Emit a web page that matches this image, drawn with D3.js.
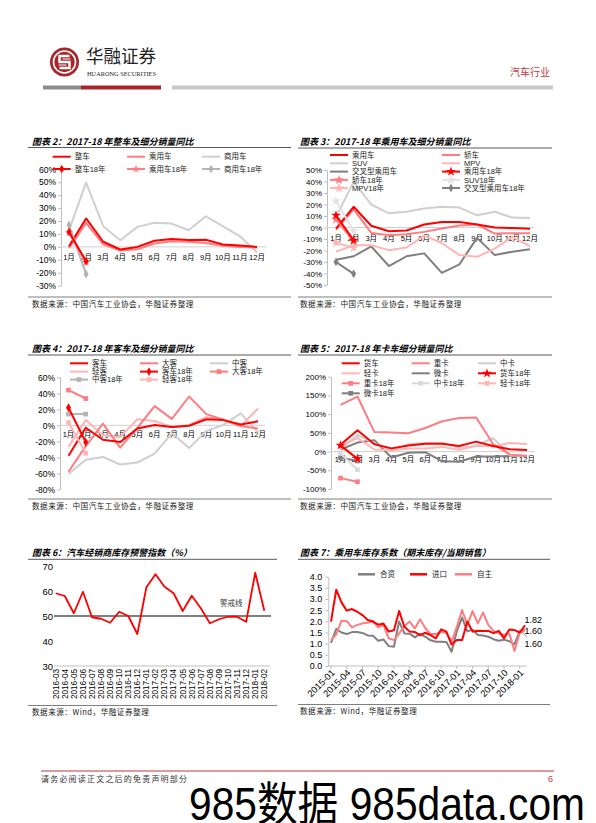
<!DOCTYPE html>
<html><head><meta charset="utf-8">
<script src="https://cdn.jsdelivr.net/npm/d3@7"></script>
<style>
body{margin:0;background:#fff;}
svg{display:block;font-family:"Liberation Sans","Noto Sans CJK SC",sans-serif;}
</style></head><body><svg id="page" width="596" height="823"></svg>
<script>
// ---------------- DATA ----------------
const months = ["1月","2月","3月","4月","5月","6月","7月","8月","9月","10月","11月","12月"];
const months18 = ["1月","2月"];

// 图表2
const c2_zhengche   = [0.5, 22.0, 4.0, -2.0, 0.0, 4.8, 6.2, 5.4, 5.5, 1.9, 1.0, 0.0];
const c2_chengyong  = [-1.0, 18.6, 2.0, -2.8, -1.8, 2.6, 4.4, 3.9, 3.1, 0.8, 0.0, -0.5];
const c2_shangyong  = [13.0, 49.7, 16.0, 5.2, 15.5, 18.6, 18.0, 12.9, 23.7, 16.0, 8.2, -4.4];
const c2_zhengche18 = [11.6, -11.1];
const c2_chengyong18 = [11.1, -11.9];
const c2_shangyong18 = [17.0, -21.1];

// 图表3
const c3_chengyong = [-1.0, 18.0, 1.5, -3.2, -2.6, 2.6, 4.8, 4.7, 2.7, 0.0, -0.5, -1.0];
const c3_jiaoche   = [-2.0, 15.8, -4.7, -6.7, -5.8, -3.8, -0.9, 1.7, 2.6, -5.3, -5.0, -5.0];
const c3_suv       = [9.0, 39.7, 20.0, 12.3, 13.7, 16.6, 18.0, 17.3, 10.6, 13.7, 8.6, 8.2];
const c3_mpv       = [-21.0, -15.5, -15.4, -19.7, -17.4, -7.0, -13.5, -24.0, -25.5, -18.3, -8.2, -16.3];
const c3_jiaocha   = [-28.0, -25.0, -16.5, -33.5, -25.0, -22.5, -39.5, -32.0, -9.0, -24.0, -21.0, -19.0];
const c3_chengyong18 = [10.6, -11.1];
const c3_jiaoche18   = [7.0, -12.0];
const c3_suv18       = [23.0, -3.0];
const c3_mpv18       = [-13.3, -17.7];
const c3_jiaocha18   = [-30.0, -40.3];

// 图表4
const c4_keche   = [-38.0, -3.0, -18.0, -21.0, -4.0, 0.5, -2.0, -0.5, 7.5, 6.5, 1.0, 5.0];
const c4_dake    = [-58.0, -26.0, 2.0, -28.0, -3.0, 24.0, 8.0, 36.0, 14.0, 7.0, -1.0, -4.0];
const c4_zhongke = [-61.0, -43.0, -39.5, -49.0, -46.5, -35.5, -10.0, -28.5, -7.0, 0.5, 15.0, -9.0];
const c4_qingke  = [-27.0, 6.5, -12.5, -14.5, 7.5, 5.5, -2.5, 0.5, 10.5, 6.5, -1.0, 21.0];
const c4_keche18   = [22.0, -21.0];
const c4_dake18    = [44.0, 33.5];
const c4_zhongke18 = [14.0, 14.0];
const c4_qingke18  = [3.5, -35.0];

// 图表5
const c5_huoche  = [18.0, 57.0, 19.5, 8.5, 16.0, 21.0, 21.0, 15.0, 26.5, 15.0, 6.0, 4.0];
const c5_zhongka = [125.0, 147.0, 52.0, 51.0, 49.0, 63.0, 81.0, 89.5, 91.0, 20.0, -8.0, -12.0];
const c5_zhongk2 = [7.0, 44.5, 22.0, 3.0, 20.0, 23.0, 23.5, 10.0, 15.0, 36.5, -10.5, -11.0];
const c5_qingka  = [15.0, 36.0, 5.5, 3.5, 8.5, 8.0, 12.5, 4.5, 15.5, 14.0, 23.0, 20.0];
const c5_weika   = [5.5, 24.0, 30.5, -16.0, -3.0, -1.5, -26.0, -27.0, -13.0, -13.0, -12.0, -12.0];
const c5_huoche18  = [16.5, -19.0];
const c5_zhongka18 = [-71.0, -80.5];
const c5_zhongk218 = [-5.0, -48.5];
const c5_qingka18  = [15.0, -20.0];
const c5_weika18   = [-16.0, -25.0];

// 图表6
const c6_dates = ["2016-03","2016-04","2016-05","2016-06","2016-07","2016-08","2016-09","2016-10","2016-11","2016-12",
  "2017-01","2017-02","2017-03","2017-04","2017-05","2017-06","2017-07","2017-08","2017-09","2017-10","2017-11","2017-12",
  "2018-01","2018-02"];
const c6_values = [59.1, 58.0, 51.1, 59.7, 49.5, 48.9, 47.3, 51.7, 50.0, 42.8, 61.5, 66.7, 61.7, 59.1, 52.0, 58.1, 53.1,
  47.1, 48.7, 49.7, 49.7, 47.7, 67.3, 52.1];
const c6_warn = 50;
const c6_ticks = [30, 40, 50, 60, 70];

// 图表7
const c7_dates = ["2015-01","2015-02","2015-03","2015-04","2015-05","2015-06","2015-07","2015-08","2015-09","2015-10","2015-11","2015-12",
  "2016-01","2016-02","2016-03","2016-04","2016-05","2016-06","2016-07","2016-08","2016-09","2016-10","2016-11","2016-12",
  "2017-01","2017-02","2017-03","2017-04","2017-05","2017-06","2017-07","2017-08","2017-09","2017-10","2017-11","2017-12",
  "2018-01","2018-02"];
const c7_tickLabels = ["2015-01","2015-04","2015-07","2015-10","2016-01","2016-04","2016-07","2016-10","2017-01","2017-04","2017-07","2017-10","2018-01"];
const c7_hezi  = [1.04,1.66,1.50,1.43,1.52,1.52,1.48,1.37,1.36,1.13,1.19,0.89,0.86,1.99,1.46,1.45,1.28,1.44,1.31,1.15,1.09,1.09,1.08,0.64,
  1.56,2.17,1.55,1.63,1.39,1.37,1.31,1.20,1.13,1.18,1.11,0.97,1.56,1.62];
const c7_jinkou = [1.99,3.42,2.85,2.48,2.55,2.43,2.28,2.06,1.99,1.85,1.90,1.54,1.60,2.46,1.76,1.54,1.52,1.38,1.49,1.38,1.24,1.64,1.54,0.96,
  1.16,1.16,1.99,1.54,1.58,1.57,1.57,1.47,1.57,1.24,1.64,1.61,1.50,1.82];
const c7_zizhu = [1.16,1.42,2.03,2.01,1.73,1.84,1.91,1.94,2.01,1.73,1.84,1.24,1.16,1.46,1.79,1.99,1.69,2.09,1.69,1.43,1.43,1.54,1.49,1.09,
  1.76,2.51,1.84,2.46,1.91,2.39,1.84,1.57,1.46,1.39,1.46,0.67,1.49,1.60];
const c7_endLabels = ["1.82", "1.60", "1.60"];

// ---------------- DRAWING ----------------
const svg = d3.select("#page");
const RED = "#ff0000", SALMON = "#ff7c80", LGREY = "#cfcfcf", PALE = "#ffb5b5", DGREY = "#7f7f7f";
const DARKRED = "#a8262b";

function txt(x, y, s, o = {}) {
  const t = svg.append("text").attr("x", x).attr("y", y).attr("dy", "0.35em")
    .attr("font-size", o.fs || 8).attr("fill", o.fill || "#000")
    .attr("text-anchor", o.anchor || "start").text(s);
  if (o.fw) t.attr("font-weight", o.fw);
  if (o.fst) t.attr("font-style", o.fst);
  if (o.ff) t.attr("font-family", o.ff);
  if (o.ls) t.attr("letter-spacing", o.ls);
  if (o.tl) t.attr("textLength", o.tl).attr("lengthAdjust", "spacingAndGlyphs");
  return t;
}
function hline(x1, x2, y, color, w) {
  svg.append("line").attr("x1", x1).attr("x2", x2).attr("y1", y).attr("y2", y)
    .attr("stroke", color).attr("stroke-width", w || 1);
}

// ---- header ----
const logo = svg.append("g").attr("transform", "translate(64.5,62)");
logo.append("circle").attr("r", 14.5).attr("fill", DARKRED);
logo.append("circle").attr("r", 11.8).attr("fill", "#fff");
logo.append("circle").attr("r", 10.2).attr("fill", DARKRED);
logo.append("path").attr("d", "M5,-6 H-5 V0 H5 V6 H-5").attr("fill", "none").attr("stroke", "#fff").attr("stroke-width", 2.4);
logo.append("path").attr("d", "M6,-3 H-2 M2,3 H-6").attr("fill", "none").attr("stroke", "#fff").attr("stroke-width", 1.2);
txt(86, 56.5, "华融证券", { fs: 18, ff: '"Noto Sans CJK SC"', tl: 70, fill: "#222" });
txt(87, 74, "HUARONG SECURITIES", { fs: 6.2, ff: '"Liberation Serif",serif', tl: 69, fill: "#222" });
txt(550, 72, "汽车行业", { fs: 10, anchor: "end", fill: "#c0393b", ff: '"Noto Sans CJK SC"' });
svg.append("rect").attr("x", 43).attr("y", 85.5).attr("width", 38).attr("height", 4).attr("fill", "#8c8c8c");
svg.append("rect").attr("x", 81).attr("y", 85.5).attr("width", 80).attr("height", 4).attr("fill", DARKRED);
svg.append("rect").attr("x", 172).attr("y", 85.5).attr("width", 381).attr("height", 4).attr("fill", "#c8c8c8");

// ---- footer ----
hline(41, 554, 771, "#c0393b", 1);
txt(41, 779, "请务必阅读正文之后的免责声明部分", { fs: 8, ff: '"Noto Sans CJK SC"', ls: 1.2, fill: "#333" });
txt(553, 779, "6", { fs: 9, anchor: "end", fill: "#c0393b" });
svg.append("text").attr("x", 189).attr("y", 820).attr("font-size", 46)
  .attr("textLength", 396).attr("lengthAdjust", "spacingAndGlyphs").attr("fill", "#000")
  .text("985数据 985data.com");

// ---- chart frames ----
function frame(c) {
  txt(c.tx, c.ty, c.title, { fs: 9, fw: "bold", fst: "italic", ff: '"Noto Sans CJK SC"' });
  hline(c.x1, c.x2, c.ruleY, "#595959", 1);
  hline(c.x1, c.x2, c.bottomY, "#7f7f7f", 1);
  txt(c.tx, c.srcY, c.source, { fs: 7.6, ff: '"Noto Sans CJK SC"', ls: 0.5, fill: "#222" });
}

function marker(g, type, x, y, color, size) {
  const sym = { diamond: d3.symbolDiamond, square: d3.symbolSquare, star: d3.symbolStar }[type];
  g.append("path").attr("d", d3.symbol(sym, size || 22)()).attr("transform", `translate(${x},${y})`).attr("fill", color);
}

function monthChart(c) {
  const y = d3.scaleLinear().domain(c.yDomain).range([c.yBottom, c.yTop]);
  const x = d3.scalePoint().domain(months).range([c.xFirst, c.xLast]);
  const ax = svg.append("g").attr("transform", `translate(${c.axisX},0)`)
    .call(d3.axisLeft(y).tickValues(c.ticks).tickFormat(d => d + "%").tickSize(3).tickSizeOuter(0).tickPadding(2));
  ax.select(".domain").attr("stroke", "#bfbfbf");
  ax.selectAll(".tick line").attr("stroke", "#bfbfbf");
  ax.selectAll(".tick text").attr("font-size", c.tickFs).attr("fill", "#000")
    .attr("font-family", '"Liberation Sans",sans-serif');
  hline(c.axisX, c.axisRight, y(0), "#d0d0d0", 1);
  svg.append("g").selectAll("text").data(months).join("text")
    .attr("x", d => x(d)).attr("y", c.labelY).attr("dy", "0.35em").attr("text-anchor", "middle")
    .attr("font-size", c.monthFs).text(d => d);
  const line = d3.line().x((d, i) => x(months[i])).y(d => y(d));
  const g = svg.append("g");
  c.drawOrder.forEach(k => {
    const s = c.series[k];
    g.append("path").datum(s.values).attr("d", line).attr("fill", "none")
      .attr("stroke", s.color).attr("stroke-width", s.w || 2).attr("stroke-linejoin", "round");
    if (s.marker) s.values.forEach((v, i) => marker(g, s.marker, x(months[i]), y(v), s.color, s.ms));
  });
  // legend
  const lg = svg.append("g");
  c.series.forEach((s, i) => {
    const col = i % c.legCols.length, row = Math.floor(i / c.legCols.length);
    const lx = c.legCols[col], ly = c.legRows[row];
    lg.append("line").attr("x1", lx).attr("x2", lx + 18).attr("y1", ly).attr("y2", ly)
      .attr("stroke", s.color).attr("stroke-width", s.w || 2);
    if (s.marker) marker(lg, s.marker, lx + 9, ly, s.color, s.ms);
    lg.append("text").attr("x", lx + 22).attr("y", ly).attr("dy", "0.35em")
      .attr("font-size", 7.5).attr("fill", "#222").text(s.name);
  });
}

// 图表2
frame({ tx: 32, ty: 142, title: "图表 2：2017-18 年整车及细分销量同比", x1: 28, x2: 291, ruleY: 147.5, bottomY: 297, srcY: 304,
  source: "数据来源：中国汽车工业协会，华融证券整理" });
monthChart({
  yDomain: [-30, 60], yTop: 169.3, yBottom: 285.7, ticks: d3.range(-30, 61, 10), axisX: 61, axisRight: 267,
  xFirst: 69, xLast: 257, labelY: 257.7, tickFs: 8.5, monthFs: 7.5,
  legCols: [52.7, 127, 202], legRows: [156.7, 169],
  series: [
    { name: "整车", values: c2_zhengche, color: RED },
    { name: "乘用车", values: c2_chengyong, color: SALMON },
    { name: "商用车", values: c2_shangyong, color: LGREY },
    { name: "整车18年", values: c2_zhengche18, color: RED, marker: "diamond" },
    { name: "乘用车18年", values: c2_chengyong18, color: SALMON, marker: "star" },
    { name: "商用车18年", values: c2_shangyong18, color: "#b4b4b4", marker: "diamond" }
  ],
  drawOrder: [2, 1, 0, 5, 4, 3]
});

// 图表3
frame({ tx: 300, ty: 142, title: "图表 3：2017-18 年乘用车及细分销量同比", x1: 298, x2: 552, ruleY: 148, bottomY: 297, srcY: 304,
  source: "数据来源：中国汽车工业协会，华融证券整理" });
monthChart({
  yDomain: [-50, 50], yTop: 170, yBottom: 285, ticks: d3.range(-50, 51, 10), axisX: 327, axisRight: 534,
  xFirst: 336, xLast: 530, labelY: 238.3, tickFs: 8, monthFs: 7.5,
  legCols: [330, 442], legRows: [155, 163.3, 171.6, 179.9, 188],
  series: [
    { name: "乘用车", values: c3_chengyong, color: RED },
    { name: "轿车", values: c3_jiaoche, color: SALMON },
    { name: "SUV", values: c3_suv, color: LGREY },
    { name: "MPV", values: c3_mpv, color: PALE },
    { name: "交叉型乘用车", values: c3_jiaocha, color: DGREY },
    { name: "乘用车18年", values: c3_chengyong18, color: RED, marker: "star", ms: 30 },
    { name: "轿车18年", values: c3_jiaoche18, color: SALMON, marker: "star", ms: 30 },
    { name: "SUV18年", values: c3_suv18, color: "#e3e3e3", marker: "star", ms: 30 },
    { name: "MPV18年", values: c3_mpv18, color: PALE, marker: "star", ms: 30 },
    { name: "交叉型乘用车18年", values: c3_jiaocha18, color: DGREY, marker: "diamond" }
  ],
  drawOrder: [4, 2, 3, 1, 0, 9, 8, 7, 6, 5]
});

// 图表4
frame({ tx: 32, ty: 349, title: "图表 4：2017-18 年客车及细分销量同比", x1: 28, x2: 291, ruleY: 355, bottomY: 499, srcY: 506.5,
  source: "数据来源：中国汽车工业协会，华融证券整理" });
monthChart({
  yDomain: [-80, 60], yTop: 377.3, yBottom: 489.3, ticks: d3.range(-80, 61, 20), axisX: 60, axisRight: 265,
  xFirst: 68.5, xLast: 258, labelY: 434.3, tickFs: 8.5, monthFs: 7.5,
  legCols: [70, 140, 210], legRows: [363.3, 371.6, 379.6],
  series: [
    { name: "客车", values: c4_keche, color: RED },
    { name: "大客", values: c4_dake, color: SALMON },
    { name: "中客", values: c4_zhongke, color: LGREY },
    { name: "轻客", values: c4_qingke, color: PALE },
    { name: "客车18年", values: c4_keche18, color: RED, marker: "diamond" },
    { name: "大客18年", values: c4_dake18, color: SALMON, marker: "square" },
    { name: "中客18年", values: c4_zhongke18, color: "#b4b4b4", marker: "square" },
    { name: "轻客18年", values: c4_qingke18, color: PALE, marker: "square" }
  ],
  drawOrder: [2, 3, 1, 0, 7, 6, 5, 4]
});

// 图表5
frame({ tx: 300, ty: 349, title: "图表 5：2017-18 年卡车细分销量同比", x1: 298, x2: 552, ruleY: 355, bottomY: 499, srcY: 506.5,
  source: "数据来源：中国汽车工业协会，华融证券整理" });
monthChart({
  yDomain: [-100, 200], yTop: 376.7, yBottom: 489, ticks: d3.range(-100, 201, 50), axisX: 331, axisRight: 535,
  xFirst: 340.5, xLast: 527, labelY: 459, tickFs: 8, monthFs: 7.5,
  legCols: [341.7, 411.7, 478], legRows: [363.3, 373.3, 383.3, 393.3],
  series: [
    { name: "货车", values: c5_huoche, color: RED },
    { name: "重卡", values: c5_zhongka, color: SALMON },
    { name: "中卡", values: c5_zhongk2, color: LGREY },
    { name: "轻卡", values: c5_qingka, color: PALE },
    { name: "微卡", values: c5_weika, color: DGREY },
    { name: "货车18年", values: c5_huoche18, color: RED, marker: "star", ms: 30 },
    { name: "重卡18年", values: c5_zhongka18, color: SALMON, marker: "square" },
    { name: "中卡18年", values: c5_zhongk218, color: "#d9d9d9", marker: "square" },
    { name: "轻卡18年", values: c5_qingka18, color: PALE, marker: "square" },
    { name: "微卡18年", values: c5_weika18, color: DGREY, marker: "square" }
  ],
  drawOrder: [4, 2, 3, 1, 0, 9, 8, 7, 6, 5]
});

// 图表6
frame({ tx: 32, ty: 553.3, title: "图表 6：汽车经销商库存预警指数（%）", x1: 28, x2: 277, ruleY: 559.3, bottomY: 705.5, srcY: 712.5,
  source: "数据来源：Wind，华融证券整理" });
(function () {
  const y = d3.scaleLinear().domain([30, 70]).range([666, 566]);
  const x = d3.scalePoint().domain(c6_dates).range([55.7, 264.3]);
  const ax = svg.append("g").attr("transform", "translate(56,0)")
    .call(d3.axisLeft(y).tickValues(c6_ticks).tickSize(0).tickPadding(3));
  ax.select(".domain").remove();
  ax.selectAll(".tick text").attr("font-size", 9.5).attr("fill", "#000").attr("font-family", '"Liberation Sans",sans-serif');
  hline(54, 270, 666, "#bfbfbf", 1);
  svg.append("g").selectAll("text").data(c6_dates).join("text")
    .attr("transform", d => `translate(${x(d)},669) rotate(-90)`).attr("dy", "0.35em")
    .attr("text-anchor", "end").attr("font-size", 8.2).text(d => d);
  hline(54, 271, y(c6_warn), "#7f7f7f", 2);
  txt(220, 603, "警戒线", { fs: 7.5, ff: '"Noto Sans CJK SC"', fill: "#333" });
  svg.append("path").datum(c6_values)
    .attr("d", d3.line().x((d, i) => x(c6_dates[i])).y(d => y(d)))
    .attr("fill", "none").attr("stroke", RED).attr("stroke-width", 1.8).attr("stroke-linejoin", "round");
})();

// 图表7
frame({ tx: 300, ty: 553.3, title: "图表 7：乘用车库存系数（期末库存/当期销售）", x1: 298, x2: 550, ruleY: 559.3, bottomY: 704.5, srcY: 711.7,
  source: "数据来源：Wind，华融证券整理" });
(function () {
  const y = d3.scaleLinear().domain([0, 4]).range([666, 576.7]);
  const x = d3.scalePoint().domain(c7_dates).range([331, 525]);
  const ax = svg.append("g").attr("transform", "translate(328.3,0)")
    .call(d3.axisLeft(y).tickValues(d3.range(0, 4.01, 0.5)).tickFormat(d3.format(".1f")).tickSize(3).tickSizeOuter(0).tickPadding(3));
  ax.select(".domain").attr("stroke", "#bfbfbf");
  ax.selectAll(".tick line").attr("stroke", "#bfbfbf");
  ax.selectAll(".tick text").attr("font-size", 9).attr("fill", "#000").attr("font-family", '"Liberation Sans",sans-serif');
  hline(328.3, 527, 666, "#bfbfbf", 1);
  svg.append("g").selectAll("line").data(c7_tickLabels).join("line")
    .attr("x1", d => x(d)).attr("x2", d => x(d)).attr("y1", 666).attr("y2", 669).attr("stroke", "#bfbfbf");
  svg.append("g").selectAll("text").data(c7_tickLabels).join("text")
    .attr("transform", d => `translate(${x(d) + 2},671) rotate(-45)`).attr("dy", "0.35em")
    .attr("text-anchor", "end").attr("font-size", 9.3).text(d => d);
  const line = d3.line().x((d, i) => x(c7_dates[i])).y(d => y(d));
  const series = [
    { name: "合资", values: c7_hezi, color: DGREY },
    { name: "进口", values: c7_jinkou, color: RED },
    { name: "自主", values: c7_zizhu, color: SALMON }
  ];
  [0, 2, 1].forEach(k => {
    svg.append("path").datum(series[k].values).attr("d", line).attr("fill", "none")
      .attr("stroke", series[k].color).attr("stroke-width", 2).attr("stroke-linejoin", "round");
  });
  const legX = [358, 410, 455];
  series.forEach((s, i) => {
    svg.append("line").attr("x1", legX[i]).attr("x2", legX[i] + 17).attr("y1", 574.3).attr("y2", 574.3)
      .attr("stroke", s.color).attr("stroke-width", 2.5);
    txt(legX[i] + 22, 574.3, s.name, { fs: 7.5, fill: "#222" });
  });
  svg.append("line").attr("x1", 522).attr("y1", 632).attr("x2", 527).attr("y2", 637.5).attr("stroke", "#7f7f7f").attr("stroke-width", 0.8);
  txt(524.5, 619.7, c7_endLabels[0], { fs: 9 });
  txt(524.5, 630.5, c7_endLabels[1], { fs: 9 });
  txt(524.5, 643.5, c7_endLabels[2], { fs: 9 });
})();
</script></body></html>
